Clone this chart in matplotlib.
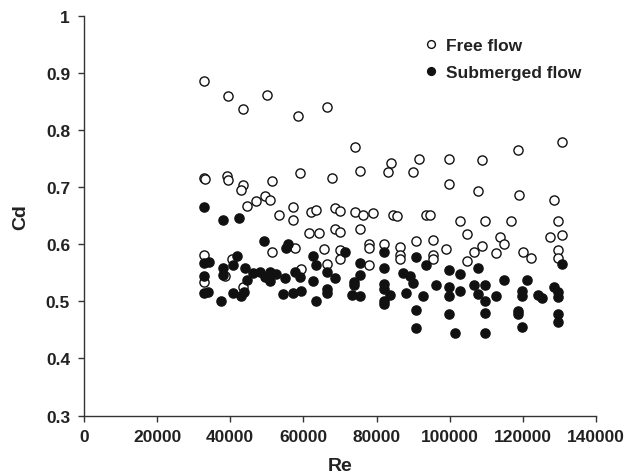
import matplotlib
matplotlib.use("Agg")
import matplotlib.pyplot as plt

plt.rcParams['font.family'] = ['Liberation Sans', 'DejaVu Sans']
plt.rcParams['font.weight'] = 'bold'

free_re = [32800, 39500, 43500, 50000, 58600, 66500, 74100, 118800, 130700,
           32800, 33000, 39000, 39500, 43600, 42900, 51300, 59200, 44700, 47000,
           49500, 50800, 53200, 57200, 57200, 62100, 63500, 61400, 64200, 65500,
           51300, 57700, 32800, 40400, 32800, 38600, 43400, 59400, 66500, 67900,
           75600, 83900, 83000, 89900, 91700, 99800, 99800, 68700, 70100, 74000,
           76400, 78900, 84600, 85500, 93500, 94600, 68700, 70100, 75600, 70100,
           70100, 78000, 78000, 78000, 82100, 86500, 86500, 86500, 90700, 95400,
           95400, 95400, 99100, 108800, 107700, 118900, 128500, 102800, 109700,
           116800, 129600, 104800, 113800, 114800, 108800, 106700, 104800, 112700,
           120000, 122100, 127500, 130700, 129600, 129600]
free_cd = [0.886, 0.860, 0.837, 0.862, 0.825, 0.840, 0.770, 0.766, 0.779,
           0.716, 0.714, 0.720, 0.713, 0.704, 0.695, 0.711, 0.725, 0.667, 0.676,
           0.685, 0.677, 0.651, 0.665, 0.643, 0.656, 0.660, 0.620, 0.620, 0.592,
           0.587, 0.593, 0.582, 0.575, 0.534, 0.544, 0.525, 0.557, 0.566, 0.717,
           0.729, 0.743, 0.726, 0.726, 0.750, 0.749, 0.705, 0.663, 0.659, 0.657,
           0.651, 0.654, 0.651, 0.649, 0.652, 0.651, 0.627, 0.622, 0.627, 0.590,
           0.575, 0.600, 0.593, 0.564, 0.601, 0.595, 0.582, 0.575, 0.605, 0.608,
           0.582, 0.575, 0.591, 0.748, 0.693, 0.687, 0.678, 0.641, 0.641,
           0.641, 0.641, 0.618, 0.612, 0.600, 0.597, 0.586, 0.570, 0.584,
           0.587, 0.576, 0.612, 0.617, 0.590, 0.576]

sub_re = [32800, 38000, 42300, 49300, 55900, 55200, 32800, 34300, 41800, 40700,
          38000, 38000, 44000, 32800, 44600, 46300, 48100, 49500, 50800, 50800,
          52600, 55000, 57700, 59100, 62700, 63500, 62700, 32800, 34000, 37500,
          40700, 42900, 43800, 54400, 57200, 59300, 63500, 71500, 75600, 75600,
          73900, 73900, 68700, 66500, 66500, 66500, 73200, 75600, 82100, 82100,
          82100, 82100, 83700, 82100, 82100, 87300, 89200, 89900, 88100, 90700,
          93400, 90700, 90700, 92600, 96300, 99900, 99900, 99900, 99900, 101500,
          102800, 107700, 102800, 106700, 107700, 109700, 109700, 109700, 109700,
          112700, 114800, 119900, 119900, 121100, 118800, 118800, 119900, 124100,
          125300, 128500, 129600, 129600, 129600, 129600, 130700]
sub_cd = [0.665, 0.642, 0.646, 0.605, 0.601, 0.593, 0.568, 0.569, 0.579, 0.564,
          0.559, 0.546, 0.559, 0.545, 0.538, 0.549, 0.552, 0.542, 0.552, 0.536,
          0.548, 0.541, 0.551, 0.542, 0.580, 0.563, 0.535, 0.514, 0.517, 0.500,
          0.515, 0.510, 0.517, 0.513, 0.515, 0.519, 0.500, 0.587, 0.567, 0.546,
          0.534, 0.528, 0.541, 0.551, 0.522, 0.515, 0.511, 0.510, 0.586, 0.559,
          0.531, 0.522, 0.512, 0.501, 0.496, 0.550, 0.544, 0.532, 0.515, 0.578,
          0.564, 0.485, 0.453, 0.510, 0.529, 0.555, 0.525, 0.510, 0.477, 0.445,
          0.548, 0.558, 0.518, 0.528, 0.513, 0.528, 0.500, 0.479, 0.444,
          0.510, 0.537, 0.519, 0.510, 0.537, 0.483, 0.477, 0.455, 0.512,
          0.506, 0.526, 0.517, 0.508, 0.478, 0.463, 0.565]

x_ticks = [0, 20000, 40000, 60000, 80000, 100000, 120000, 140000]
x_labels = ['0', '20000', '40000', '60000', '80000', '100000', '120000', '140000']
y_ticks = [0.3, 0.4, 0.5, 0.6, 0.7, 0.8, 0.9, 1.0]
y_labels = ['0.3', '0.4', '0.5', '0.6', '0.7', '0.8', '0.9', '1']

fig = plt.figure(figsize=(6.3, 4.77), dpi=100)
ax = fig.add_axes([0.1333, 0.1268, 0.8127, 0.8376])

ax.plot(free_re, free_cd, 'o', ms=6.6, mfc='white', mec='#111111', mew=1.0,
        ls='none', label='Free flow')
ax.plot(sub_re, sub_cd, 'o', ms=6.6, mfc='#111111', mec='#111111', mew=1.0,
        ls='none', label='Submerged flow')

ax.set_xlim(0, 140000)
ax.set_ylim(0.3, 1.0)
ax.set_xticks(x_ticks)
ax.set_xticklabels(x_labels)
ax.set_yticks(y_ticks)
ax.set_yticklabels(y_labels)

for s in ['top', 'right']:
    ax.spines[s].set_visible(False)
for s in ['left', 'bottom']:
    ax.spines[s].set_color('#333333')
    ax.spines[s].set_linewidth(1.0)

ax.tick_params(axis='both', direction='out', length=4, width=1.0,
               color='#333333', labelsize=12.5, labelcolor='#222222', pad=6)
for lab in ax.get_xticklabels() + ax.get_yticklabels():
    lab.set_fontweight('bold')

ax.set_xlabel('Re', fontsize=14, fontweight='bold', color='#222222', labelpad=9)
ax.set_ylabel('Cd', fontsize=14, fontweight='bold', color='#222222', labelpad=12)

leg = ax.legend(loc='upper left', bbox_to_anchor=(0.63, 0.985), frameon=False,
                prop={'size': 12.5, 'weight': 'bold'}, markerscale=0.85,
                handletextpad=0.4, handlelength=1.0, labelspacing=0.72)
for t in leg.get_texts():
    t.set_color('#222222')

fig.savefig('out.png', dpi=100)
